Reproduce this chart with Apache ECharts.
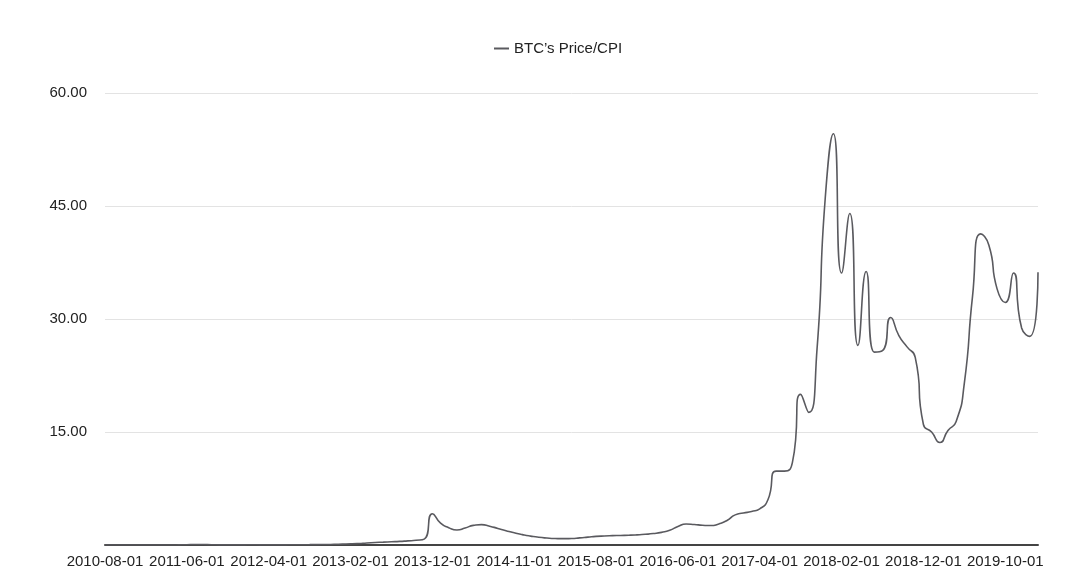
<!DOCTYPE html>
<html>
<head>
<meta charset="utf-8">
<script src="https://cdn.jsdelivr.net/npm/echarts@6/dist/echarts.min.js"></script>
<style>
html,body{margin:0;padding:0;background:#fff;}
#chart{width:1084px;height:586px;}
</style>
</head>
<body>
<div id="chart"></div>
<script>
var seriesName = 'BTC\u2019s Price/CPI';

var categories = [
 '2010-08-01','2010-09-01','2010-10-01','2010-11-01','2010-12-01',
 '2011-01-01','2011-02-01','2011-03-01','2011-04-01','2011-05-01','2011-06-01','2011-07-01','2011-08-01','2011-09-01','2011-10-01','2011-11-01','2011-12-01',
 '2012-01-01','2012-02-01','2012-03-01','2012-04-01','2012-05-01','2012-06-01','2012-07-01','2012-08-01','2012-09-01','2012-10-01','2012-11-01','2012-12-01',
 '2013-01-01','2013-02-01','2013-03-01','2013-04-01','2013-05-01','2013-06-01','2013-07-01','2013-08-01','2013-09-01','2013-10-01','2013-11-01','2013-12-01',
 '2014-01-01','2014-02-01','2014-03-01','2014-04-01','2014-05-01','2014-06-01','2014-07-01','2014-08-01','2014-09-01','2014-11-01','2014-12-01',
 '2015-01-01','2015-01-15','2015-02-01','2015-03-01','2015-04-01','2015-05-01','2015-06-01','2015-07-01','2015-08-01','2015-09-01','2015-10-01','2015-11-01','2015-12-01',
 '2016-01-01','2016-02-01','2016-03-01','2016-04-01','2016-05-01','2016-06-01','2016-07-01','2016-08-01','2016-09-01','2016-10-01','2016-11-01','2016-12-01',
 '2017-01-01','2017-02-01','2017-03-01','2017-04-01','2017-05-01','2017-06-01','2017-07-01','2017-08-01','2017-09-01','2017-10-01','2017-11-01','2017-12-01',
 '2018-01-01','2018-02-01','2018-03-01','2018-04-01','2018-05-01','2018-06-01','2018-07-01','2018-08-01','2018-09-01','2018-10-01','2018-11-01','2018-12-01',
 '2019-01-01','2019-02-01','2019-03-01','2019-04-01','2019-05-01','2019-06-01','2019-07-01','2019-08-01','2019-09-01','2019-10-01','2019-11-01','2019-12-01',
 '2020-01-01','2020-02-01'
];

var priceCpi = [
 0.0003,0.0003,0.0003,0.001,0.001,
 0.001,0.004,0.004,0.004,0.015,0.04,0.07,0.06,0.04,0.02,0.014,0.012,
 0.02,0.027,0.022,0.022,0.022,0.023,0.03,0.04,0.045,0.055,0.06,0.09,
 0.12,0.15,0.2,0.27,0.33,0.38,0.43,0.48,0.55,0.62,0.78,4.15,
 2.9,2.3,2.0,2.25,2.6,2.7,2.5,2.2,1.9,1.62,1.38,
 1.18,1.02,0.92,0.86,0.84,0.86,0.94,1.04,1.14,1.2,1.24,1.27,1.3,
 1.35,1.42,1.52,1.68,1.95,2.45,2.78,2.72,2.62,2.58,2.8,3.25,
 4.0,4.25,4.45,4.8,6.0,9.8,9.8,11.0,20.0,17.6,26.0,46.0,
 54.6,36.1,44.0,26.5,36.3,25.6,25.8,30.2,27.8,26.3,24.9,16.0,
 15.0,13.6,15.2,16.4,21.5,33.0,41.3,39.8,34.0,32.2,36.1,28.8,
 27.7,36.2
];

var yTicks = { min: 0, max: 60, interval: 15 };

var chart = echarts.init(document.getElementById('chart'), null, { renderer: 'canvas' });
var font = 'Liberation Sans, Arial, Helvetica, sans-serif';
chart.setOption({
  animation: false,
  backgroundColor: '#ffffff',
  textStyle: { fontFamily: font },
  legend: {
    left: 489,
    top: 36,
    itemWidth: 15,
    itemHeight: 2,
    icon: 'rect',
    itemGap: 10,
    textStyle: { fontSize: 15, color: '#222', fontFamily: font },
    data: [seriesName]
  },
  grid: {
    left: 105, right: 46, top: 93, bottom: 41,
    containLabel: false,
    outerBoundsMode: 'none'
  },
  xAxis: {
    type: 'category',
    boundaryGap: false,
    data: categories,
    axisLine: { show: true, lineStyle: { color: '#444', width: 2 } },
    axisTick: { show: false },
    splitLine: { show: false },
    axisLabel: {
      interval: 9,
      margin: 9,
      fontSize: 15,
      color: '#222',
      fontFamily: font,
      hideOverlap: false
    }
  },
  yAxis: {
    type: 'value',
    min: yTicks.min,
    max: yTicks.max,
    interval: yTicks.interval,
    axisLine: { show: false },
    axisTick: { show: false },
    splitLine: { show: true, lineStyle: { color: '#e3e3e3', width: 1 } },
    axisLabel: {
      margin: 18,
      fontSize: 15,
      color: '#222',
      fontFamily: font,
      padding: [3, 0, 0, 0],
      formatter: function (v) { return v === 0 ? '' : v.toFixed(2); }
    }
  },
  series: [{
    name: seriesName,
    type: 'line',
    data: priceCpi,
    smooth: 0.6,
    symbol: 'none',
    showSymbol: false,
    itemStyle: { color: '#5a5a5f' },
    lineStyle: { color: '#5a5a5f', width: 1.6 }
  }]
});
</script>
</body>
</html>
